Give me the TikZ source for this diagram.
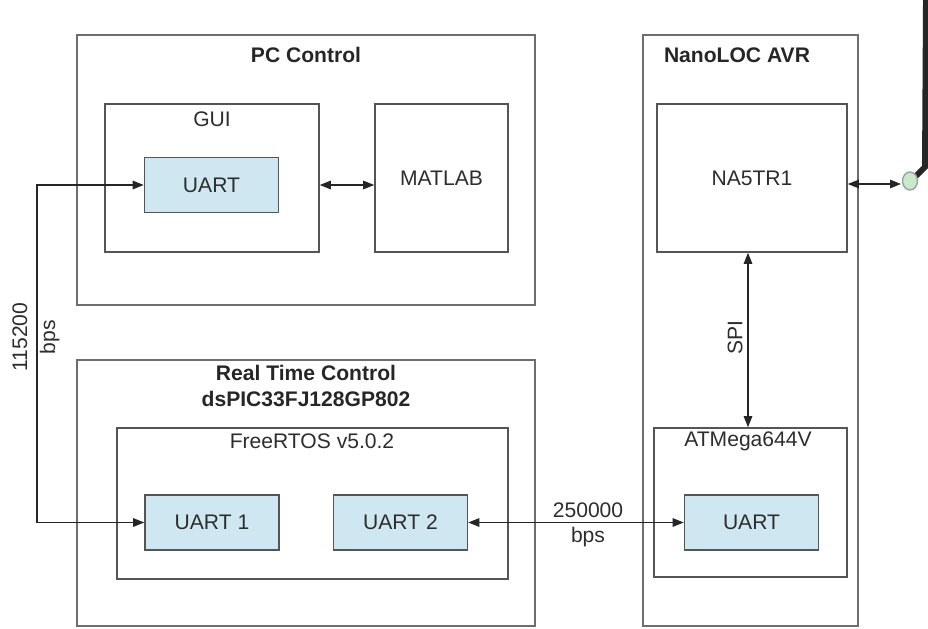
\documentclass[tikz,border=0pt]{standalone}
\usepackage{fontspec}
\setmainfont{Liberation Sans}
\usepackage{xcolor}
\usetikzlibrary{arrows.meta}
\definecolor{uartblue}{RGB}{207,231,240}
\definecolor{boxgray}{RGB}{85,85,85}
\definecolor{txtgray}{RGB}{45,45,45}

\begin{document}
\begin{tikzpicture}[
  x=0.02cm, y=-0.02cm,
  font=\fontsize{12}{14.4}\selectfont, text=txtgray,
  outer/.style={draw=boxgray!85, line width=1pt, inner sep=0pt},
  inner/.style={draw=boxgray, line width=0.9pt, inner sep=0pt},
  uart/.style={draw=boxgray, line width=0.9pt, fill=uartblue,
               minimum width=2.68cm, minimum height=1.1cm, align=center},
  title/.style={font=\fontsize{12}{14.4}\selectfont\bfseries, text=black!85, align=center},
  conn/.style={{Triangle[length=2.2mm,width=1.7mm]}-{Triangle[length=2.2mm,width=1.7mm]},
               line width=0.7pt, draw=black!85}
]
  \useasboundingbox (0,0) rectangle (928,628);

  % PC side
  \node[outer, minimum width=9.16cm, minimum height=5.4cm] (pcctrl) at (306,170) {};
  \node[title] (pctitle) at (306,55) {PC Control};
  \node[inner, minimum width=4.28cm, minimum height=2.96cm] (gui) at (212,178) {};
  \node (guititle) at (212,119) {GUI};
  \node[uart] (guiuart) at (211.5,185) {UART};
  \node[inner, minimum width=2.66cm, minimum height=2.96cm] (matlab) at (441.5,178) {MATLAB};

  % dsPIC side
  \node[outer, minimum width=9.16cm, minimum height=5.32cm] (rtctrl) at (306,493) {};
  \node[title] (rttitle) at (306,386) {Real Time Control\\dsPIC33FJ128GP802};
  \node[inner, minimum width=7.82cm, minimum height=3.02cm] (freertos) at (312.5,503.5) {};
  \node (rtostitle) at (312,441) {FreeRTOS v5.0.2};
  \node[uart] (uartone) at (212,522.5) {UART 1};
  \node[uart] (uarttwo) at (400.5,522.5) {UART 2};

  % nanoLOC side
  \node[outer, minimum width=4.3cm, minimum height=11.82cm] (nanoloc) at (750.5,330.5) {};
  \node[title] (nltitle) at (737,55) {NanoLOC AVR};
  \node[inner, minimum width=3.8cm, minimum height=2.96cm] (natr) at (752,178) {NA5TR1};
  \node[inner, minimum width=3.86cm, minimum height=2.98cm] (atmega) at (750.5,502.5) {};
  \node (attitle) at (748,441) {ATMega644V};
  \node[uart] (atuart) at (751.5,522.5) {UART};

  % antenna
  \coordinate (ant) at (901,184);
  \draw[line width=3.4pt, black!85, line cap=round] (912,180) -- (925,167) -- (926,0);
  \fill[gray!55!green!30, draw=gray!75, line width=0.8pt] (910,181) ellipse [x radius=7.5, y radius=9];

  % links
  \coordinate (bend) at (37,522.5);
  \draw[conn] (guiuart.west) -| (bend) -- (uartone.west);
  \node[rotate=90, align=center, font=\fontsize{12}{16}\selectfont] (rsone) at (36,337) {115200\\bps};
  \draw[conn] (guiuart.east -| gui.east) -- (guiuart.east -| matlab.west);
  \draw[conn] (uarttwo.east) -- (atuart.west);
  \node[align=center] (rstwo) at (588,525) {250000\\bps};
  \draw[conn] (natr.south -| 748,0) -- (atmega.north -| 748,0);
  \node[rotate=90] (spi) at (735,338) {SPI};
  \draw[conn] (ant -| natr.east) -- (ant);
\end{tikzpicture}
\end{document}
